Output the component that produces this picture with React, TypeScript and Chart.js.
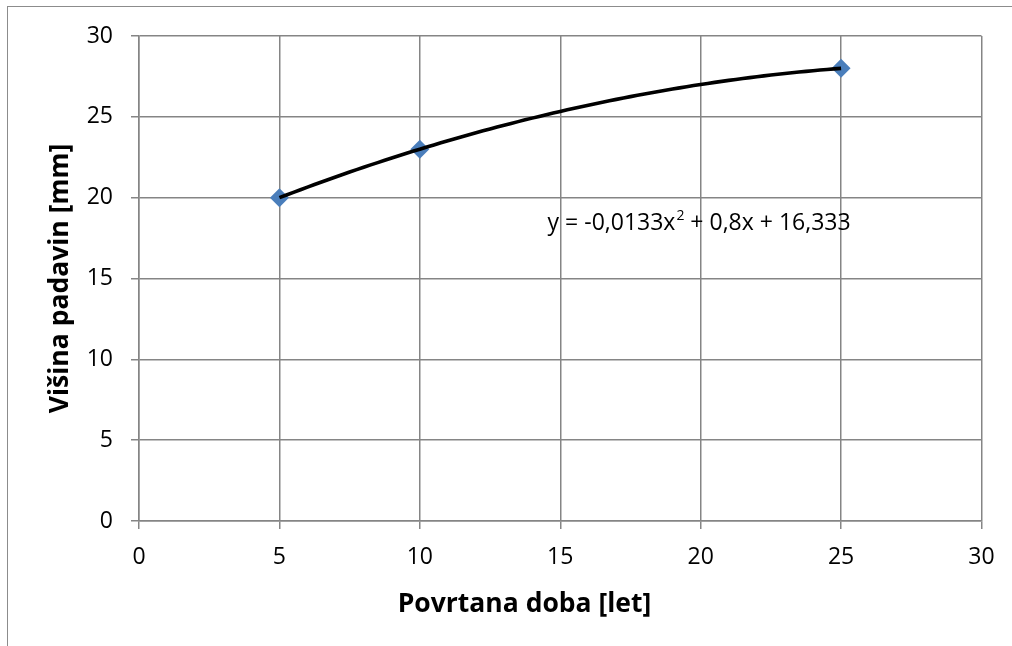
import React, { useEffect, useRef } from "react";
import { Chart, registerables } from "chart.js";

Chart.register(...registerables);

const returnPeriods = [5, 10, 25];
const precipitation = [20, 23, 28];
const xTicks = [0, 5, 10, 15, 20, 25, 30];
const yTicks = [0, 5, 10, 15, 20, 25, 30];
const xTitle = "Povrtana doba [let]";
const yTitle = "Višina padavin [mm]";

// Polynomial (order 2) trendline fitted to the data, as the spreadsheet does
function fitQuadratic(xs: number[], ys: number[]) {
  let s0 = 0, s1 = 0, s2 = 0, s3 = 0, s4 = 0, t0 = 0, t1 = 0, t2 = 0;
  for (let i = 0; i < xs.length; i++) {
    const x = xs[i], y = ys[i];
    s0 += 1; s1 += x; s2 += x * x; s3 += x * x * x; s4 += x * x * x * x;
    t0 += y; t1 += x * y; t2 += x * x * y;
  }
  const M = [
    [s4, s3, s2, t2],
    [s3, s2, s1, t1],
    [s2, s1, s0, t0],
  ];
  for (let c = 0; c < 3; c++) {
    for (let r = c + 1; r < 3; r++) {
      const f = M[r][c] / M[c][c];
      for (let k = c; k < 4; k++) M[r][k] -= f * M[c][k];
    }
  }
  const sol = [0, 0, 0];
  for (let r = 2; r >= 0; r--) {
    let v = M[r][3];
    for (let k = r + 1; k < 3; k++) v -= M[r][k] * sol[k];
    sol[r] = v / M[r][r];
  }
  return { a: sol[0], b: sol[1], c: sol[2] };
}

const FONT = "'Open Sans', 'DejaVu Sans', sans-serif";
const GRID = "#858585";
const TICK_SIZE = 23;
const TITLE_SIZE = 26.5;

export default function App() {
  const ref = useRef<HTMLCanvasElement | null>(null);

  useEffect(() => {
    if (!ref.current) return;
    const { a, b, c } = fitQuadratic(returnPeriods, precipitation);
    const x0 = returnPeriods[0];
    const x1 = returnPeriods[returnPeriods.length - 1];
    const trend: { x: number; y: number }[] = [];
    const steps = 80;
    for (let i = 0; i <= steps; i++) {
      const x = x0 + ((x1 - x0) * i) / steps;
      trend.push({ x, y: a * x * x + b * x + c });
    }
    const fmt = (v: number, d: number) =>
      (Math.round(v * Math.pow(10, d)) / Math.pow(10, d)).toString().replace(".", ",");
    const labels = {
      id: "labels",
      afterDraw(chart: any) {
        const ctx = chart.ctx;
        const xs = chart.scales.x;
        const ys = chart.scales.y;
        ctx.save();
        ctx.fillStyle = "#000";
        // trendline equation
        let px = xs.getPixelForValue(14.55);
        const py = ys.getPixelForValue(18.0);
        ctx.textBaseline = "alphabetic";
        ctx.textAlign = "left";
        ctx.font = `${TICK_SIZE}px ${FONT}`;
        const part1 = `y = ${a < 0 ? "-" : ""}${fmt(Math.abs(a), 4)}x`;
        ctx.fillText(part1, px, py);
        px += ctx.measureText(part1).width;
        ctx.font = `14px ${FONT}`;
        ctx.fillText("2", px + 1, py - 10);
        px += ctx.measureText("2").width + 1;
        ctx.font = `${TICK_SIZE}px ${FONT}`;
        const part2 = ` + ${fmt(b, 4)}x + ${fmt(c, 3)}`;
        ctx.fillText(part2, px, py);
        // x axis title
        ctx.font = `bold ${TITLE_SIZE}px ${FONT}`;
        ctx.textAlign = "center";
        ctx.textBaseline = "middle";
        ctx.fillText(xTitle, 524.5, 604);
        ctx.restore();
      },
    };
    const chart = new Chart(ref.current, {
      type: "scatter",
      data: {
        datasets: [
          {
            label: "trend",
            data: trend,
            showLine: true,
            borderColor: "#000000",
            borderWidth: 3.6,
            pointRadius: 0,
            tension: 0,
            order: 0,
          },
          {
            label: "data",
            data: returnPeriods.map((x, i) => ({ x, y: precipitation[i] })),
            pointStyle: "rectRot",
            pointRadius: 9.5,
            backgroundColor: "#4A7EBB",
            borderColor: "#4A7EBB",
            borderWidth: 0,
            showLine: false,
            order: 1,
          },
        ],
      },
      options: {
        responsive: false,
        animation: false,
        events: [],
        layout: { padding: { left: 0, right: 30.5, top: 36, bottom: 0 } },
        plugins: { legend: { display: false }, tooltip: { enabled: false } },
        scales: {
          x: {
            type: "linear",
            min: 0,
            max: 30,
            afterFit: (s: any) => { s.height = 125; },
            afterBuildTicks: (s: any) => { s.ticks = xTicks.map((v) => ({ value: v })); },
            ticks: { color: "#000", font: { family: FONT, size: TICK_SIZE }, padding: 15, maxRotation: 0 },
            grid: { color: GRID, lineWidth: 1.5, tickLength: 8, drawTicks: true },
            border: { color: GRID, width: 1.5 },
            title: { display: false },
          },
          y: {
            type: "linear",
            min: 0,
            max: 30,
            afterFit: (s: any) => { s.width = 139; },
            afterBuildTicks: (s: any) => { s.ticks = yTicks.map((v) => ({ value: v })); },
            ticks: { color: "#000", font: { family: FONT, size: TICK_SIZE }, padding: 18 },
            grid: { color: GRID, lineWidth: 1.5, tickLength: 8, drawTicks: true },
            border: { color: GRID, width: 1.5 },
            title: {
              display: true,
              text: yTitle,
              color: "#000",
              font: { family: FONT, size: TITLE_SIZE, weight: "bold" },
              padding: { top: 45, bottom: 0 },
            },
          },
        },
      },
      plugins: [labels],
    } as any);
    return () => chart.destroy();
  }, []);

  return (
    <div
      style={{
        position: "fixed",
        left: 0,
        top: 0,
        width: 1012,
        height: 646,
        overflow: "hidden",
        background: "#fff",
      }}
    >
      <div
        style={{
          position: "absolute",
          left: 7,
          top: 6,
          width: 1200,
          height: 800,
          border: "1px solid #8c8c8c",
          boxSizing: "border-box",
        }}
      />
      <canvas
        ref={ref}
        width={1012}
        height={646}
        style={{ position: "absolute", left: 0, top: 0, width: 1012, height: 646 }}
      />
    </div>
  );
}
